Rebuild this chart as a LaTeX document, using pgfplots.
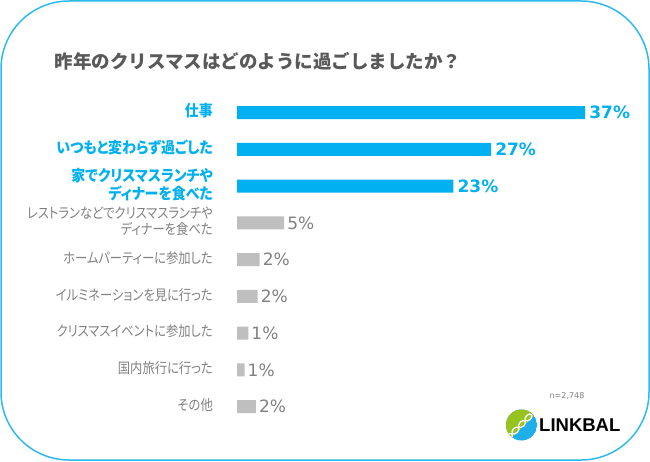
\documentclass[border=0pt]{standalone}
\usepackage{pgfplots}
\pgfplotsset{compat=1.18}
\usepackage{fontspec}
\setmainfont{Noto Sans CJK JP}
\newfontfamily\titlefont{Noto Sans CJK JP}
\newfontfamily\blfont{Noto Sans CJK JP}[RawFeature=+palt, FakeStretch=0.9]
\newfontfamily\grfont{Noto Sans CJK JP}[RawFeature=+palt, FakeStretch=0.86]
\newfontfamily\numfont{DejaVu Sans}
\newfontfamily\logofont{Liberation Sans}

\definecolor{framblue}{RGB}{45,185,240}
\definecolor{barblue}{RGB}{0,176,240}
\definecolor{bargray}{RGB}{191,191,191}
\definecolor{labgray}{RGB}{128,128,128}
\definecolor{titlegray}{RGB}{89,89,89}
\definecolor{logogreen}{RGB}{150,195,30}
\definecolor{logoblue}{RGB}{30,175,235}

\newcommand{\bl}[1]{{\color{barblue}\blfont\bfseries\fontsize{15.5}{16}\selectfont\begin{tabular}{@{}r@{}}#1\end{tabular}}}
\newcommand{\gr}[1]{{\color{labgray}\grfont\fontsize{14.3}{15}\selectfont\begin{tabular}{@{}r@{}}#1\end{tabular}}}

\begin{document}
\begin{tikzpicture}[x=1pt,y=1pt]
\useasboundingbox (0,0) rectangle (650,461);
\draw[framblue, line width=1.5pt, rounded corners=68pt] (1,1) rectangle (649,460);
\node[font=\titlefont\bfseries\fontsize{18.5}{22}\selectfont, text=titlegray] at (258,400)
  {昨年のクリスマスはどのように過ごしましたか？};

\begin{axis}[
  at={(237pt,35.95pt)}, anchor=south west,
  scale only axis, width=376.4pt, height=330.75pt,
  xbar, bar width=13pt, bar shift=0pt,
  xmin=0, xmax=40, ymin=-0.5, ymax=8.5, y dir=reverse,
  ytick={0,...,8},
  yticklabels={
    \bl{仕事},
    \bl{いつもと変わらず過ごした},
    \bl{家でクリスマスランチや\\ディナーを食べた},
    \gr{レストランなどでクリスマスランチや\\ディナーを食べた},
    \gr{ホームパーティーに参加した},
    \gr{イルミネーションを見に行った},
    \gr{クリスマスイベントに参加した},
    \gr{国内旅行に行った},
    \gr{その他}},
  yticklabel style={inner sep=0pt, xshift=-24pt},
  xtick=\empty,
  axis line style={draw=none},
  major tick length=0pt,
  point meta=explicit symbolic,
  nodes near coords={\pgfplotspointmeta\%},
  nodes near coords align={horizontal},
  every node near coord/.append style={anchor=west},
  clip=false,
]
\addplot+[fill=barblue, draw=none,
  every node near coord/.append style={text=barblue, font=\numfont\bfseries\fontsize{17}{20}\selectfont, inner sep=4pt}]
  coordinates {(37,0)[37] (27,1)[27] (23,2)[23]};
\addplot+[fill=bargray, draw=none,
  every node near coord/.append style={text=labgray, font=\numfont\fontsize{17}{20}\selectfont, inner sep=3pt}]
  coordinates {(5,3)[5] (2.4,4)[2] (2.2,5)[2] (1.2,6)[1] (0.8,7)[1] (2.0,8)[2]};
\end{axis}

\node[font=\numfont\fontsize{8}{10}\selectfont, text=labgray] at (567,65) {n=2,748};
% logo
\begin{scope}
  \clip (521.5,36) circle (15.5);
  \fill[logoblue] (521.5,36) circle (15.5);
  \fill[logogreen] (500,57) -- (545,57) -- (500,12) -- cycle;
  \foreach \i in {0,1,2,3} {
    \draw[white, line width=1.3pt, rotate around={-45:(509+\i*6.5,24+\i*6.5)}]
      (509+\i*6.5,24+\i*6.5) ellipse (2.6 and 4.2);
  }
\end{scope}
\node[anchor=west, font=\logofont\bfseries\fontsize{18.5}{20}\selectfont, inner sep=0pt] at (539,36) {LINKBAL};
\end{tikzpicture}
\end{document}
